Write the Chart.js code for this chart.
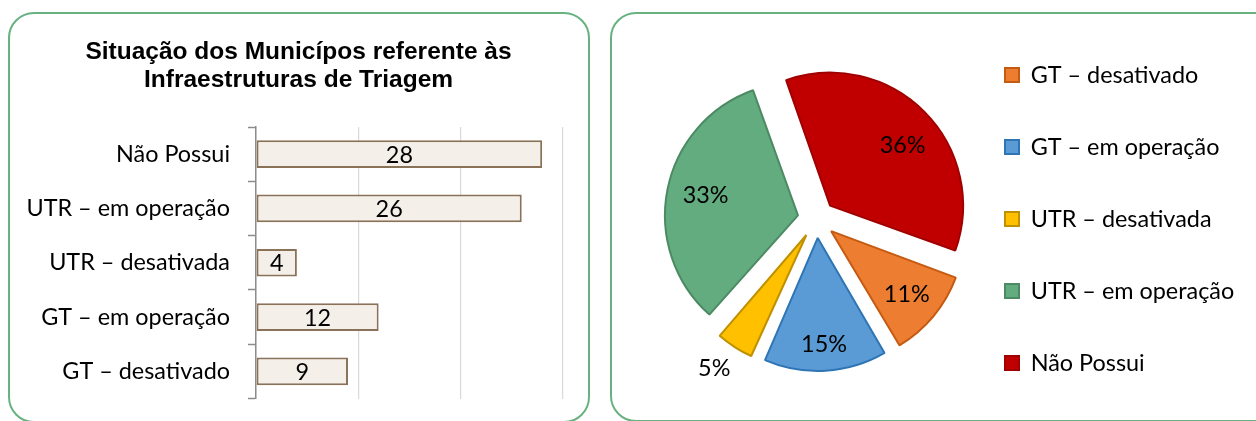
<!DOCTYPE html>
<html><head><meta charset="utf-8">
<script src="https://cdn.jsdelivr.net/npm/chart.js@4.4.0/dist/chart.umd.min.js"></script>
<style>
html,body{margin:0;padding:0;width:1256px;height:421px;overflow:hidden;background:#fff;}
.panel{position:absolute;box-sizing:border-box;border:2px solid #68b282;border-radius:26px;background:#fff;}
#p1{left:8px;top:12px;width:582px;height:411px;}
#p2{left:610px;top:12px;width:700px;height:410px;}
canvas{position:absolute;}
#bar{left:8px;top:0;}
#pie{left:611px;top:0;}
</style></head><body>
<div class="panel" id="p1"></div><div class="panel" id="p2"></div>
<canvas id="bar" width="581" height="421"></canvas>
<canvas id="pie" width="645" height="438"></canvas>
<script>
// ---- data ----
const categories = ['GT – desativado', 'GT – em operação', 'UTR – desativada', 'UTR – em operação', 'Não Possui'];
const counts = [9, 12, 4, 26, 28];
const piePercents = [11, 15, 5, 33, 36];
const xTicks = [0, 10, 20, 30];
const titleLines = ['Situação dos Municípos referente às', 'Infraestruturas de Triagem'];

// ---- styles ----
const pieFill = ['#ED7D31', '#5B9BD5', '#FFC000', '#63AC80', '#C00000'];
const pieBorder = ['#C55A11', '#2E75B6', '#BF9000', '#4C8A63', '#A00000'];
const FONT = 'Lato';
const FS = 23.4;

Chart.defaults.font.family = FONT;
Chart.defaults.color = '#000';

// ---- bar chart ----
const barLabelPlugin = {
  id: 'barLabels',
  afterDatasetsDraw(chart) {
    const ctx = chart.ctx, meta = chart.getDatasetMeta(0);
    ctx.save();
    ctx.font = FS + 'px ' + FONT;
    ctx.fillStyle = '#000';
    ctx.textAlign = 'center';
    ctx.textBaseline = 'middle';
    meta.data.forEach((bar, i) => {
      ctx.fillText(String(chart.data.datasets[0].data[i]), (bar.x + bar.base) / 2, bar.y + 1);
    });
    ctx.restore();
  }
};

new Chart(document.getElementById('bar'), {
  type: 'bar',
  data: {
    labels: categories,
    datasets: [{
      data: counts,
      backgroundColor: '#f4f0e9',
      borderColor: '#8a7259',
      borderWidth: 2,
      borderSkipped: false,
      barPercentage: 0.51,
      categoryPercentage: 1
    }]
  },
  options: {
    indexAxis: 'y',
    responsive: false,
    animation: false,
    events: [],
    layout: {padding: {left: 0, right: 0, top: 0, bottom: 22.5}},
    plugins: {
      legend: {display: false},
      tooltip: {enabled: false},
      title: {
        display: true,
        text: titleLines,
        color: '#000',
        font: {family: '"Liberation Sans", Arial, sans-serif', size: 24.5, weight: 'bold', lineHeight: 1.127},
        padding: {top: 38.4, bottom: 33.4}
      }
    },
    scales: {
      x: {
        type: 'linear', min: 0, max: 30,
        afterBuildTicks(s) { s.ticks = xTicks.map(v => ({value: v})); },
        ticks: {display: false},
        grid: {color: '#d9d9d9', lineWidth: 1.2, drawTicks: false},
        border: {display: false}
      },
      y: {
        reverse: true,
        ticks: {color: '#000', font: {size: FS, family: FONT}, padding: 18},
        grid: {drawOnChartArea: false, drawTicks: true, tickLength: 8, tickColor: '#8c8c8c', tickWidth: 1.5},
        border: {display: true, color: '#8c8c8c', width: 1.5},
        afterFit(s) { s.width = 248; s.paddingTop = 0; s.paddingBottom = 0; }
      },
      yRight: {
        type: 'category',
        position: 'right',
        labels: categories,
        ticks: {display: false},
        grid: {display: false, drawTicks: false},
        border: {display: false},
        afterFit(s) { s.width = 26.4; s.paddingTop = 0; s.paddingBottom = 0; }
      }
    }
  },
  plugins: [barLabelPlugin]
});

// ---- pie chart ----
const PIE_R = 133;
const OFFSET = 76;          // Chart.js translates each arc by offset/4
const labelDist = [0.74, 0.80, 1.22, 0.71, 0.71];
const labelTurn = [0, 0, 2, 1, 5];   // degrees, clockwise

const pieFix = {
  id: 'pieFix',
  afterDatasetUpdate(chart, args) {
    args.meta.data.forEach(a => {
      const c = a.circumference;
      a.outerRadius = PIE_R - (OFFSET / 4) * (1 - Math.sin(Math.min(Math.PI, c)));
    });
  }
};
const pieLabels = {
  id: 'pieLabels',
  afterDatasetsDraw(chart) {
    const ctx = chart.ctx, meta = chart.getDatasetMeta(0);
    ctx.save();
    ctx.font = FS + 'px ' + FONT;
    ctx.fillStyle = '#000';
    ctx.textAlign = 'center';
    ctx.textBaseline = 'middle';
    meta.data.forEach((a, i) => {
      const mid = (a.startAngle + a.endAngle) / 2;
      const ox = a.x + Math.cos(mid) * OFFSET / 4, oy = a.y + Math.sin(mid) * OFFSET / 4;
      const d = labelDist[i] * PIE_R;
      const ang = mid + labelTurn[i] * Math.PI / 180;
      ctx.fillText(piePercents[i] + '%', ox + Math.cos(ang) * d, oy + Math.sin(ang) * d);
    });
    ctx.restore();
  }
};

// legend geometry (canvas coordinates)
const ITEM_STEP = 72, BOX = 14;
const LEG_PAD = ITEM_STEP - FS;
const PIE_CX = 205.6;
const BOX_X = 394;
const legendLeft = BOX_X - LEG_PAD;
const padL = 2 * PIE_CX - legendLeft;
const Cw = legendLeft - padL;
const mctx = document.createElement('canvas').getContext('2d');
mctx.font = FS + 'px ' + FONT;
const T = Math.max(...categories.map(c => mctx.measureText(c).width));
const N = LEG_PAD + BOX + FS / 2 + T + 10;
const padR = 645 - legendLeft - Math.min(N, Cw);

new Chart(document.getElementById('pie'), {
  type: 'pie',
  data: {
    labels: categories,
    datasets: [{
      data: piePercents,
      backgroundColor: pieFill,
      borderColor: pieBorder,
      borderWidth: 2,
      offset: OFFSET,
      hoverOffset: OFFSET
    }]
  },
  options: {
    responsive: false,
    animation: false,
    events: [],
    rotation: 110,
    radius: PIE_R,
    layout: {padding: {left: padL, right: padR, top: 0, bottom: 0}},
    plugins: {
      tooltip: {enabled: false},
      legend: {
        display: true,
        position: 'right',
        align: 'center',
        labels: {color: '#000', font: {size: FS, family: FONT}, boxWidth: BOX, boxHeight: BOX, padding: LEG_PAD}
      }
    }
  },
  plugins: [pieFix, pieLabels]
});
</script>
</body></html>
